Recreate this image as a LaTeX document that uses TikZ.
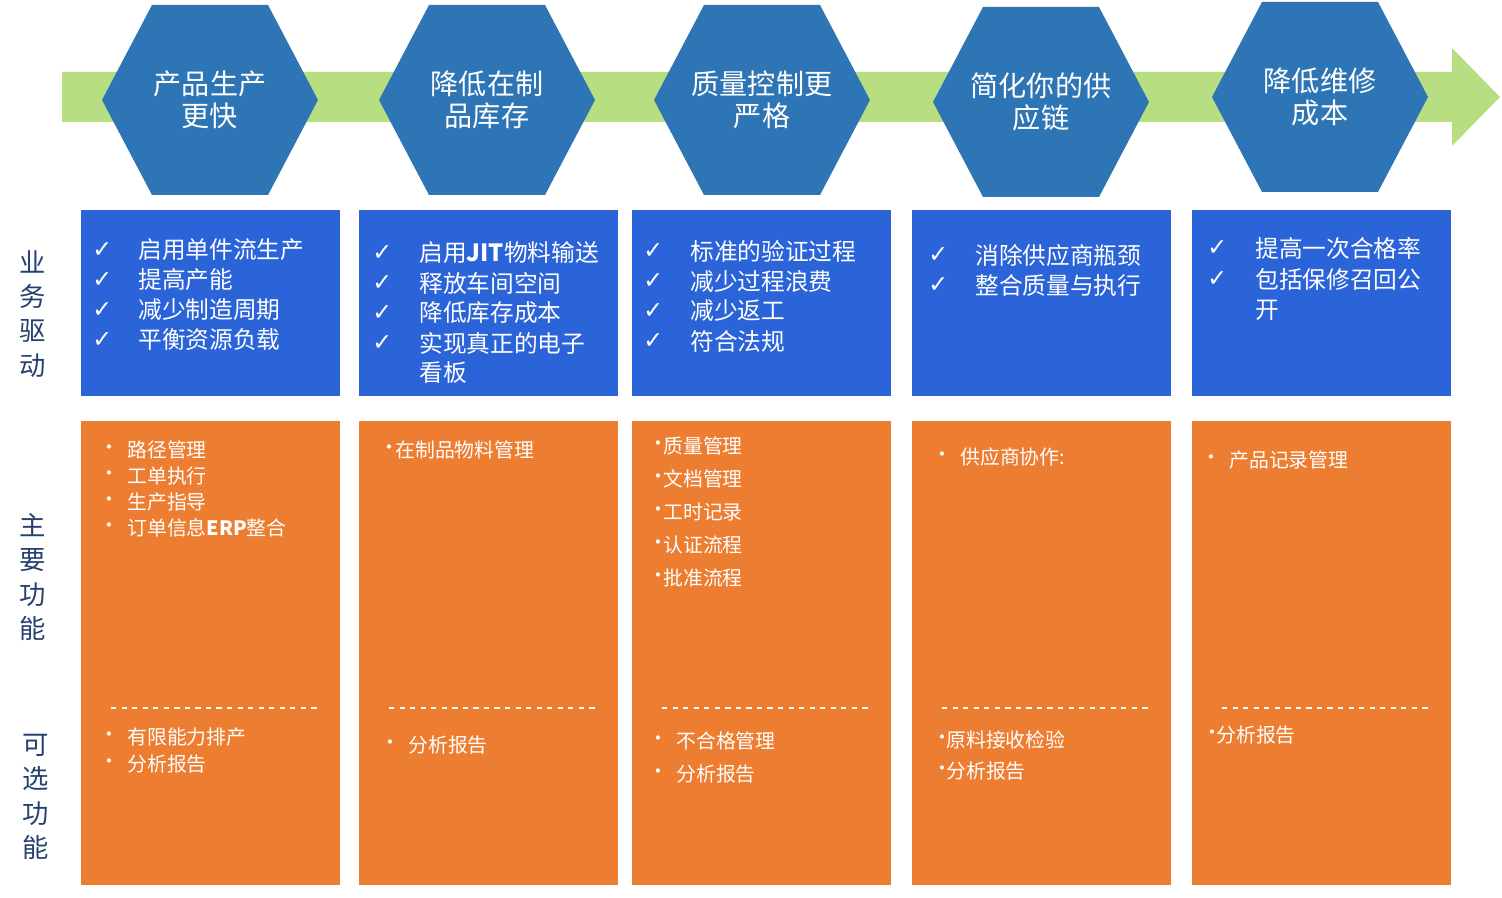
\documentclass[tikz,border=0pt]{standalone}
\usepackage{fontspec}
\setmainfont{Noto Sans CJK SC}
\newfontfamily\symfont{DejaVu Sans}
\usepackage{tikz}

\definecolor{bandgreen}{RGB}{183,222,128}
\definecolor{hexblue}{RGB}{46,117,182}
\definecolor{drvblue}{RGB}{43,99,217}
\definecolor{funorange}{RGB}{237,125,49}
\definecolor{sidecol}{RGB}{38,64,110}

\tikzset{
  hextext/.style={text=white,align=center,font=\fontsize{16}{18}\selectfont},
  drvtext/.style={text=white,anchor=west,font=\fontsize{13.5}{16}\selectfont,inner sep=0pt},
  funtext/.style={text=white,anchor=west,font=\fontsize{11.3}{13}\selectfont,inner sep=0pt},
  sidetext/.style={text=sidecol,align=center,font=\fontsize{15}{19.5}\selectfont},
  sepline/.style={white,dashed,line width=1.2pt}
}

% list of lines: \itemlist{bullet x}{text x}{first y}{step}{symbol}{style}{lines}
\newcommand{\itemlist}[7]{%
  \foreach \txt [count=\k from 0] in {#7} {
    \node[#6] at (#1,{#3+\k*#4}) {#5};
    \node[#6] at (#2,{#3+\k*#4}) {\txt};
  }}
\newcommand{\tick}{{\symfont ✓}}
\newcommand{\bul}{•}

\begin{document}
\begin{tikzpicture}[x=0.02cm,y=-0.02cm]
\useasboundingbox (0,0) rectangle (1502,898);

% arrow band
\fill[bandgreen] (62,72) -- (1452,72) -- (1452,48) -- (1500,97)
  -- (1452,146) -- (1452,122) -- (62,122) -- cycle;

% hexagons
\foreach \cx/\cy/\lbl [count=\i] in {210/100/{产品生产\\更快},487/100/{降低在制\\品库存},
  762/100/{质量控制更\\严格},1041/102/{简化你的供\\应链},1320/97/{降低维修\\成本}} {
  \fill[hexblue] (\cx-108,\cy) -- (\cx-58,\cy-95) -- (\cx+58,\cy-95)
    -- (\cx+108,\cy) -- (\cx+58,\cy+95) -- (\cx-58,\cy+95) -- cycle;
  \node[hextext] (h\i) at (\cx,\cy) {\lbl};
}

% boxes
\foreach \bx [count=\i] in {81,359,632,912,1192} {
  \fill[drvblue] (\bx,210) rectangle ++(259,186);
  \fill[funorange] (\bx,421) rectangle ++(259,464);
  \draw[sepline] (\bx+30,708) -- (\bx+237,708);
}

% side labels
\node[sidetext] (drv) at (33,314) {业\\务\\驱\\动};
\node[sidetext] (fun) at (33,577) {主\\要\\功\\能};
\node[sidetext] (opt) at (36,797) {可\\选\\功\\能};

% drivers
\itemlist{92}{138}{250}{30}{\tick}{drvtext}{启用单件流生产,提高产能,减少制造周期,平衡资源负载}
\itemlist{372}{419}{253}{30}{\tick}{drvtext}{启用\textbf{JIT}物料输送,释放车间空间,降低库存成本,实现真正的电子}
\node[drvtext] (kb) at (419,373) {看板};
\itemlist{643}{690}{251}{30}{\tick}{drvtext}{标准的验证过程,减少过程浪费,减少返工,符合法规}
\itemlist{928}{975}{255}{30}{\tick}{drvtext}{消除供应商瓶颈,整合质量与执行}
\itemlist{1207}{1255}{248}{31}{\tick}{drvtext}{提高一次合格率,包括保修召回公}
\node[drvtext] (kai) at (1255,310) {开};

% main functions
\itemlist{99}{127}{450}{26}{\bul}{funtext}{路径管理,工单执行,生产指导,订单信息\textbf{ERP}整合}
\itemlist{379}{395}{450}{26}{\bul}{funtext}{在制品物料管理}
\itemlist{648}{663}{446}{33}{\bul}{funtext}{质量管理,文档管理,工时记录,认证流程,批准流程}
\itemlist{932}{960}{457}{26}{\bul}{funtext}{供应商协作:}
\itemlist{1201}{1229}{460}{26}{\bul}{funtext}{产品记录管理}

% optional functions
\itemlist{99}{127}{737}{27}{\bul}{funtext}{有限能力排产,分析报告}
\itemlist{380}{408}{745}{27}{\bul}{funtext}{分析报告}
\itemlist{648}{676}{741}{33}{\bul}{funtext}{不合格管理,分析报告}
\itemlist{932}{946}{740}{31}{\bul}{funtext}{原料接收检验,分析报告}
\itemlist{1202}{1216}{735}{27}{\bul}{funtext}{分析报告}

\end{tikzpicture}
\end{document}
